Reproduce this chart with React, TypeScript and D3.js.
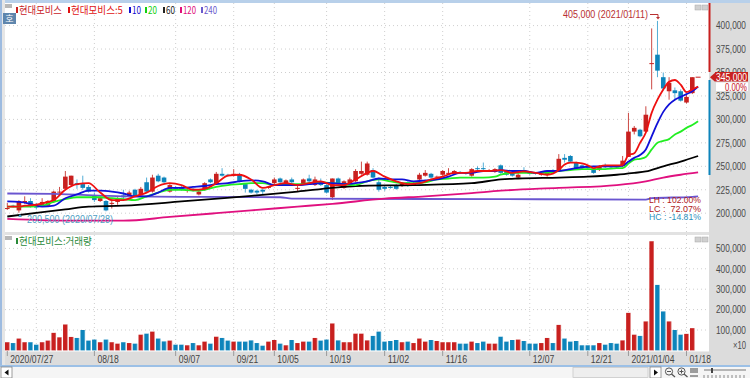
import React from 'react';
import * as d3 from 'd3';

// [open, high, low, close] in thousands of won
const candles: number[][] = [
  [204.5,211,203.5,205.5],[208,209,206,207],[203,214,200.5,213],[211,218,210,213],[213,216,206,207],[209,211,204,206],
  [208,216,207,212],[208,214,207,213],[212,224,211,223],[222,228,220,223],[226,245,226,239],[230,240,229,240],
  [232,236,226,230],[231,240,225,227],[228,230,222,223],[219,222,212,214],[213,217,212,216],[213,214,202,203],
  [210,216,205,211],[212,217,209,216],[219,225,215,217],[218,224,217,222],[225,226,218,218],[219,228,218,226],
  [233,238,222,223],[223,241,222,238],[240,242,233,234],[238,239,232,233],[223,232,222,230],[227,229,224,226],
  [228,229,224,225],[224,228,222,225],[226,227,223,224],[220,224,219,223],[225,233,224,232],[236,237,232,233],
  [231,244,230,242],[242,248,239,240],[241,242,239,240],[241,247,239,242],[241,243,233,234],[231,232,222,226],
  [225,226,221,222],[224,225,220,222],[225,226,220,223],[227,229,226,228],[232,238,231,236],[237,238,232,233],
  [232,236,231,235],[236,238,232,233],[226,229,223,227],[231,237,230,236],[237,241,233,234],[230,239,229,236],
  [234,237,229,230],[230,231,221,222],[217,237,214,237],[237,238,230,231],[227,235,226,234],[232,238,231,236],
  [234,247,233,245],[242,255,241,245],[241,255,240,253],[246,248,237,238],[233,238,223,225],[228,230,224,226],
  [228,230,226,227],[229,231,225,226],[229,233,228,232],[233,234,228,229],[230,233,229,232],[236,243,235,241],
  [240,246,239,243],[242,243,237,238],[238,240,237,239],[241,246,240,245],[242,248,241,243],[242,246,241,245],
  [244,245,242,243],[243,244,241,242],[240,248,239,247],[248,250,246,247],[248,254,245,247],[245,247,244,246],
  [244,248,243,247],[251,252,242,243],[245,246,240,241],[243,244,239,240],[238,243,237,241],[246,249,243,244],
  [244,245,241,242],[243,244,241,242],[241,245,240,242],[241,244,239,243],[246,247,242,243],[246,263,245,258],
  [259,263,254,257],[261,262,254,255],[254,255,247,248],[251,252,247,248],[250,251,247,248],[246,247,242,243],
  [246,251,245,250],[251,253,248,249],[250,251,248,249],[250,251,248,249],[250,261,249,256],[260,307,260,287],
  [287,293,284,291],[289,290,281,282],[287,314,286,305],[359,397,332,360],[369,405,345,352],[345,350,331,333],
  [330,345,321,339],[331,334,321,328],[330,332,319,320],[318,326,317,324],[328,345,327,345],[345,345,345,345],
];

const volumes: number[] = [
  40,36,58,40,40,28,40,48,86,64,127,66,61,100,48,53,40,53,40,33,40,36,33,77,82,92,58,44,48,28,
  28,25,36,25,43,33,67,61,48,43,43,43,49,36,23,43,51,33,25,51,36,43,43,61,48,53,132,49,40,40,
  82,82,49,71,92,43,46,51,40,43,36,58,43,51,46,40,40,40,33,33,43,36,43,33,33,67,43,51,53,46,
  33,33,36,61,36,125,58,43,46,25,25,25,36,28,36,33,49,184,77,71,142,535,321,191,142,100,77,81,109,0,
];

const ma5: number[][] = [[0,207],[2,207],[3,208],[5,209],[7,212],[8,214],[10,225],[12,231],[14,232],[16,222],[18,214],[20,214],[22,218],[24,222],[26,229],[28,232],[30,230],[32,225],[34,226],[36,232],[38,240],[40,241],[42,236],[44,227],[46,230],[48,232],[50,230],[52,232],[54,234],[56,230],[58,230],[60,236],[62,243],[63,245],[65,239],[67,234],[69,231],[71,232],[73,236],[75,239],[77,243],[79,243],[81,245],[83,245],[85,246],[87,243],[89,244.6],[91,243],[93,241],[95,246],[96,252],[97,254],[98,254],[99,253],[100,251],[101,248],[102,250],[103,251],[105,251],[106,251.6],[107,262],[108,264],[109,275],[110,286],[111,307],[112,321],[113,332],[114,340],[115,342],[116,337],[117,329],[118,332],[119,335]];
const ma10: number[][] = [[0,212.5],[2,212],[4,210],[6,207],[8,208],[10,216],[12,220],[14,224],[16,224],[18,223],[20,221],[22,218],[24,218],[26,222],[28,227],[30,227],[32,228],[34,229],[36,231],[38,232],[40,234],[42,235],[44,234],[46,230],[48,230],[50,230],[52,231],[54,232],[56,232],[58,231],[60,232],[62,234],[64,237],[66,236],[68,236],[70,234],[72,235],[74,236],[76,239],[78,243],[80,243],[82,245],[84,245],[85,246],[87,245],[89,245],[91,243],[93,245],[95,245],[97,247],[99,249],[101,250],[103,250],[105,250],[106,250.6],[107,255],[108,259],[109,262],[110,268],[111,282],[112,296],[113,308],[114,316],[115,321],[116,324],[117,327],[118,330],[119,335]];
const ma20: number[][] = [[0,207],[2,207],[4,207],[6,208],[8,212],[10,215],[12,217],[14,217],[16,217],[18,216],[20,215],[22,214],[24,218],[26,222],[28,225],[30,225],[32,224],[34,225],[36,228],[38,230],[40,231],[42,232],[44,232],[46,230],[48,231],[50,231],[52,232],[54,233],[56,232],[58,231],[60,230],[62,234],[64,236],[66,234],[68,232],[70,232],[72,233],[74,236],[76,237],[78,238],[80,238],[82,238],[84,239],[85,241],[87,243],[89,243],[91,243],[93,243],[95,245],[97,246],[99,247],[101,247],[103,247],[105,248],[106,248],[107,253],[108,257],[109,258],[110,260],[111,268],[112,275],[113,277],[114,279],[115,284],[116,287],[117,291],[118,294],[119,298]];
const ma60: number[][] = [[0,196.5],[10,204],[14,207],[20,208],[30,212.5],[41,218],[43,219],[50,223],[56,227],[60,229],[70,230],[80,232],[85,236],[88,237],[95,238],[100,239],[105,241],[108,243],[110,244.5],[113,250],[116,255],[119,261]];
const ma120: number[][] = [[0,194],[12,192],[20,192],[28,196],[36,200],[42,203],[50,207],[56,210],[65,215.5],[72,218],[80,221.5],[85,224],[95,227],[105,230],[110,234],[113,238],[116,241],[119,243.5]];
const ma240: number[][] = [[0,221],[8,220.5],[20,218],[30,217.5],[47,217],[49,215.5],[85,215],[110,214.5],[111,216],[118,217.5],[119,218]];

const priceTicks = [400, 375, 350, 325, 300, 275, 250, 225, 200];
const volumeTicks = [500, 400, 300, 200, 100];
const dateLabels: [number, string][] = [[0,'2020/07/27'],[15,'08/18'],[29,'09/07'],[39,'09/21'],[46,'10/05'],[55,'10/19'],[65,'11/02'],[75,'11/16'],[90,'12/07'],[100,'12/21'],[107,'2021/01/04'],[117,'01/18']];
const gridBars = [5,15,29,39,46,55,65,75,90,100,107,117];
const legendItems: [string, number, string, number][] = [['현대모비스',16,'#c8201f',43],['현대모비스:5',68,'#e01010',52],['10',129,'#1010d0',9],['20',145,'#10d010',9],['60',163,'#222222',9],['120',180,'#e0107a',13],['240',201,'#6a5acd',13]];
const rangeStats: [string, string, number][] = [['LH : 102.00%','#b02020',200],['LC :  72.07%','#b02020',208.5],['HC : -14.81%','#2a8fbd',217]];

const RED = '#c8201f', BLUE = '#0d84bb';
const KR = '"Noto Sans CJK KR", sans-serif';
const NUM = '"Liberation Sans", sans-serif';

const measurer = document.createElement('canvas').getContext('2d')!;

// text squeezed horizontally to the width the reference's narrow bitmap font takes
function Fit({ x, y, w, fill, size = 11, family = NUM, children }: any) {
  measurer.font = `${size}px ${family}`;
  const natural = measurer.measureText(String(children)).width || w;
  return <text transform={`translate(${x} ${y}) scale(${w / natural} 1)`} fontSize={size} fontFamily={family} fill={fill} xmlSpace="preserve">{children}</text>;
}

export default function App() {
  const x = d3.scaleLinear().domain([0, 118]).range([7.3, 692.3]);
  const y = d3.scaleLinear().domain([200, 400]).range([213.2, 25.6]);
  const v = d3.scaleLinear().domain([0, 500]).range([350.4, 248.4]);
  const mk = d3.line<number[]>().x(d => x(d[0])).y(d => y(d[1])).curve(d3.curveMonotoneX);
  const lines: [number[][], string][] = [[ma240,'#6a55d0'],[ma120,'#e0107f'],[ma60,'#000000'],[ma20,'#22ee22'],[ma10,'#1010d8'],[ma5,'#ee1010']];
  return (
    <svg width={750} height={378} style={{ position: 'absolute', left: 0, top: 0 }} fontFamily={NUM}>
      <rect width={750} height={378} fill="#ffffff" />
      <rect width={750} height={3} fill="#b8d0ea" />
      <rect width={2} height={366} fill="#9dbbe0" />
      <rect x={2} width={3} height={366} fill="#e6e6e6" />
      <rect x={709} y={3} width={41} height={349} fill="#dcdcdc" />
      <rect x={5} y={232} width={704} height={3} fill="#e2e2e2" />
      <rect x={5} y={351.5} width={745} height={14} fill="#dcdcdc" />
      <rect y={365} width={750} height={2} fill="#9cc0e6" />
      <rect y={367} width={750} height={11} fill="#f5f5f5" />

      {priceTicks.map(t => <line key={t} x1={5} x2={709} y1={y(t)} y2={y(t)} stroke="#cfcfcf" strokeDasharray="1 3" />)}
      {volumeTicks.map(t => <line key={t} x1={5} x2={709} y1={v(t)} y2={v(t)} stroke="#cfcfcf" strokeDasharray="1 3" />)}
      {gridBars.map(i => <line key={i} x1={x(i)} x2={x(i)} y1={3} y2={351} stroke="#cfcfcf" strokeDasharray="1 3" />)}

      {candles.map((c, i) => {
        const up = c[3] >= c[0];
        const col = up ? RED : BLUE;
        const top = y(Math.max(c[0], c[3]));
        const h = Math.abs(y(c[0]) - y(c[3]));
        if (i === candles.length - 1) return <line key={i} x1={x(i) - 2.5} x2={x(i) + 2.5} y1={top} y2={top} stroke={RED} strokeWidth={1} />;
        return (
          <g key={i}>
            <line x1={x(i)} x2={x(i)} y1={y(c[1])} y2={y(c[2])} stroke={up ? '#cc4a45' : '#55aed6'} strokeWidth={1} />
            <rect x={x(i) - 2.3} y={top} width={4.6} height={Math.max(h, 1)} fill={col} />
          </g>
        );
      })}
      {lines.map(([d, c]) => <path key={c} d={mk(d) || ''} fill="none" stroke={c} strokeWidth={1.8} />)}

      {volumes.map((val, i) => val > 0 && (
        <g key={i}>
          <rect x={x(i) - 2.3} y={v(val)} width={4.6} height={v(0) - v(val)} fill={candles[i][3] >= candles[i][0] ? RED : BLUE} />
          <rect x={x(i) + 1.6} y={v(val)} width={0.8} height={v(0) - v(val)} fill="#ffffff" opacity={0.4} />
        </g>
      ))}

      {/* right axis */}
      {priceTicks.map(t => <Fit key={t} x={716} y={y(t) + 3.8} w={30} fill="#4a4a4a">{d3.format(',')(t * 1000)}</Fit>)}
      {volumeTicks.map(t => <Fit key={t} x={716} y={v(t) + 3.8} w={30} fill="#4a4a4a">{d3.format(',')(t * 1000)}</Fit>)}
      <Fit x={733} y={349} w={13} fill="#4a4a4a">×10</Fit>

      <rect x={708.5} y={3} width={2} height={69} fill={RED} />
      <rect x={708.5} y={80} width={2} height={95} fill={BLUE} />
      <path d={`M710 ${y(345)} L715 ${y(345) - 4.5} L715 ${y(345) + 4.5} Z`} fill={RED} />
      <rect x={715} y={72} width={33} height={9.5} fill={RED} />
      <Fit x={716} y={80.5} w={31} fill="#ffffff">345,000</Fit>
      <rect x={716} y={82.5} width={32} height={8.5} fill="#ffffff" />
      <Fit x={725} y={90.5} w={22} fill={RED}>0.00%</Fit>

      {/* bottom axis */}
      {dateLabels.map(([i, s]) => (
        <g key={s}>
          <line x1={x(i)} x2={x(i)} y1={351} y2={356} stroke="#9a9a9a" />
          <Fit x={x(i) + 3} y={363} w={s.length * 4.3} fill="#444444">{s}</Fit>
        </g>
      ))}

      {/* legends */}
      <rect x={5} y={4} width={7} height={4} fill="#b8b8b8" />
      {legendItems.map(([s, lx, c, w]) => (
        <g key={s}>
          <rect x={lx} y={7} width={2} height={6} fill={c} />
          <Fit x={lx + 3} y={13.5} w={w} size={10} family={KR} fill={c}>{s}</Fit>
        </g>
      ))}
      <rect x={3} y={13} width={13} height={11} fill="#5f86ad" />
      <text x={9.5} y={22} fontSize={9} textAnchor="middle" fontFamily={KR} fill="#ffffff">호</text>
      <rect x={5} y={236} width={7} height={4} fill="#b8b8b8" />
      <rect x={16} y={238} width={2} height={6} fill="#2a8a3a" />
      <Fit x={19} y={244.5} w={73} size={10} family={KR} fill="#2a8a3a">현대모비스:거래량</Fit>

      {/* annotations */}
      <Fit x={563} y={18} w={85} fill="#b83030">405,000 (2021/01/11)</Fit>
      <path d={`M650 14.5 H658 V18`} fill="none" stroke="#b83030" />
      <path d={`M656 17 H660 L658 19.5 Z`} fill="#b83030" />
      <Fit x={27} y={223} w={86} fill="#4f9fc4">200,500 (2020/07/28)</Fit>
      <path d={`M18 217 L20 214 L22 217 Z`} fill="#4f9fc4" />
      {rangeStats.map(([s, c, ty]) => <Fit key={s} x={649} y={ty + 3.3} w={52} size={9.5} fill={c}>{s}</Fit>)}

      {/* window buttons */}
      {[5, 237].map(by => (
        <g key={by}>
          <rect x={695} y={by} width={6} height={5} fill="#d0d0d0" stroke="#a8a8a8" strokeWidth={0.5} />
          <rect x={702} y={by} width={6} height={5} fill="#d0d0d0" stroke="#a8a8a8" strokeWidth={0.5} />
        </g>
      ))}

      {/* scrollbar */}
      <rect x={1} y={367} width={11} height={11} fill="#ffffff" stroke="#777777" strokeWidth={0.7} />
      <path d="M8.5 369.5 L4.5 372.5 L8.5 375.5 Z" fill="#111111" />
      <rect x={573} y={367.5} width={75} height={10} fill="#eeeeee" stroke="#c4c4c4" strokeWidth={0.7} />
      <rect x={650} y={367} width={11} height={11} fill="#ffffff" stroke="#777777" strokeWidth={0.7} />
      <path d="M654 369.5 L658 372.5 L654 375.5 Z" fill="#111111" />
      <circle cx={669} cy={371.5} r={3.6} fill="none" stroke="#555555" />
      <path d="M671.5 374 L675 377" stroke="#555555" strokeWidth={1.3} />
      <path d="M667 371.5 H671" stroke="#555555" />
      <circle cx={681.5} cy={371.5} r={3.6} fill="none" stroke="#555555" />
      <path d="M684 374 L687.5 377" stroke="#555555" strokeWidth={1.3} />
      <path d="M679.5 371.5 H683.5 M681.5 369.5 V373.5" stroke="#555555" />
      <path d="M691 368 V373 M693 368 V373 M695 368 V373 M697 368 V373 M690 376 H698" stroke="#444444" />
      <path d="M704 370 H746" stroke="#777777" />
      <rect x={711} y={368} width={2} height={5} fill="#444444" />
      <path d="M704 375 V378 M708 375 V378 M712 375 V378 M716 375 V378 M720 375 V378 M724 375 V378 M728 375 V378 M732 375 V378 M736 375 V378 M740 375 V378 M744 375 V378" stroke="#888888" />
    </svg>
  );
}
